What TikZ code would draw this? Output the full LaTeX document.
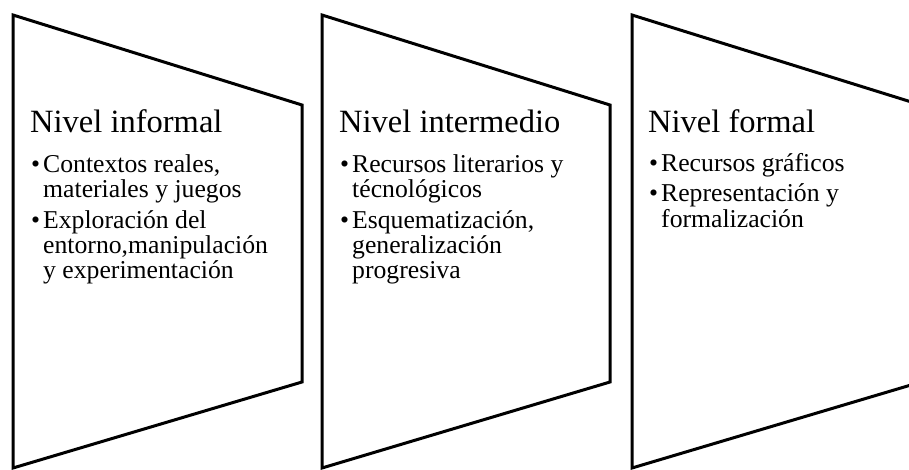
\documentclass[tikz,border=0pt]{standalone}
\usepackage{fontspec}
\setmainfont{Liberation Serif}
\begin{document}
\begin{tikzpicture}[x=1pt, y=-1pt,
          etapa/.style={draw=black, line width=3pt, line join=miter},
          nivel/.style={anchor=base west, inner sep=0pt, font=\fontsize{32.5}{32.5}\selectfont},
          punto/.style={anchor=base west, inner sep=0pt, align=left,
            font=\fontsize{25.7}{25}\selectfont}]
          \useasboundingbox (0,0) rectangle (909,470);
          % \draw [help lines] grid(3,2);
          \draw[etapa] (13,15) -- (302,105) -- (302,382) -- (13,468) -- cycle;
          \draw[etapa] (322,15) -- (610,105) -- (610,382) -- (322,468) -- cycle;
          \draw[etapa] (632,15) -- (921,105) -- (921,382) -- (632,468) -- cycle;
          % base anchor = baseline of the last line
          \node[nivel] (informal) at (30,133) {Nivel informal};
          \node[punto] (contextos) at (31,198) {\makebox[12pt][l]{\textbullet}Contextos reales,\\\hspace*{12pt}materiales y juegos};
          \node[punto] (exploracion) at (31,278) {\makebox[12pt][l]{\textbullet}Exploración del\\\hspace*{12pt}entorno,manipulación\\\hspace*{12pt}y experimentación};
          \node[nivel] (intermedio) at (339,133) {Nivel intermedio};
          \node[punto] (recursos) at (340,198) {\makebox[12pt][l]{\textbullet}Recursos literarios y\\\hspace*{12pt}técnológicos};
          \node[punto] (esquema) at (340,278) {\makebox[12pt][l]{\textbullet}Esquematización,\\\hspace*{12pt}generalización\\\hspace*{12pt}progresiva};
          \node[nivel] (formal) at (648,133) {Nivel formal};
          \node[punto] (graficos) at (649,172) {\makebox[12pt][l]{\textbullet}Recursos gráficos};
          \node[punto] (represent) at (649,227) {\makebox[12pt][l]{\textbullet}Representación y\\\hspace*{12pt}formalización};
        \end{tikzpicture}
\end{document}
